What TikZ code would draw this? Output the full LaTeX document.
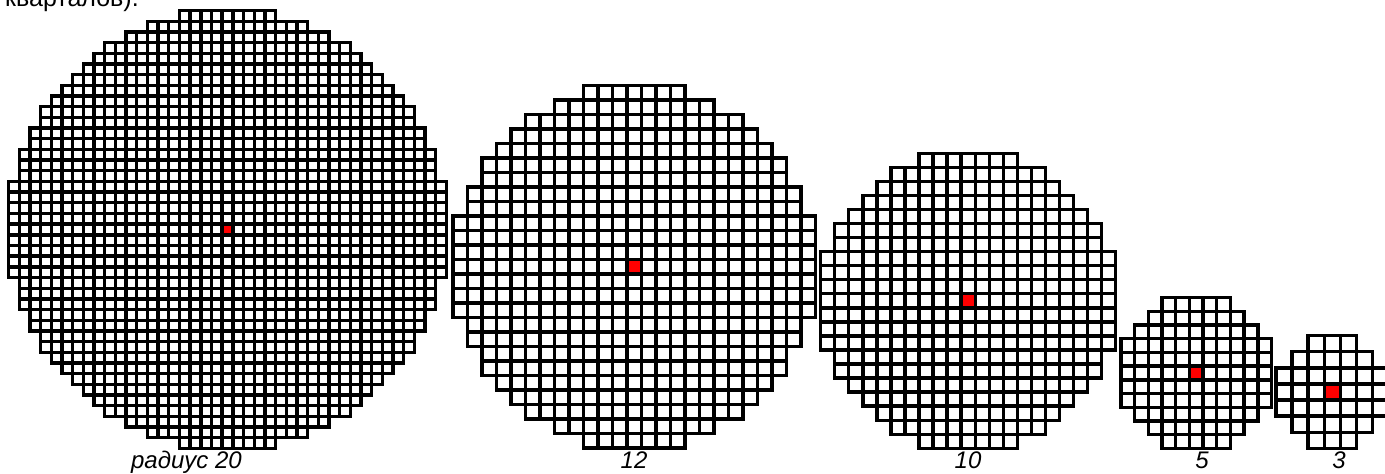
\documentclass[tikz,border=0pt]{standalone}
\usepackage{fontspec}
\setmainfont{Liberation Sans}
\definecolor{blkInk}{HTML}{000000}
\definecolor{blkRed}{HTML}{FF0000}
\tikzset{
  blk cell/.style={draw=blkInk, fill=white, line width=3.4pt},
  blk centre/.style={blk cell, fill=blkRed},
  blk label/.style={font=\itshape\fontsize{24}{28}\selectfont, text=blkInk, inner sep=0pt, anchor=base},
  blk text/.style={font=\fontsize{25}{30}\selectfont, text=blkInk, inner sep=0pt, anchor=base east},
}

\begin{document}
\begin{tikzpicture}[x=1pt, y=1pt]
  \useasboundingbox (0,0) rectangle (1385,474);
  % Tail of the sentence above the picture (cut by the page edge)
  \node[blk text] (tail) at (139,467) {кварталов).};
  % Discs of blocks: centre x / centre y / block size / radius
  \foreach \cx/\cy/\p/\r in {227.5/244.5/10.68/20, 634.2/207.3/14.5/12, 968.2/173.2/14.05/10, 1196.2/101/13.7/5, 1332.3/82/16.1/3} {
    \pgfmathtruncatemacro{\rlo}{-\r}
    \pgfmathtruncatemacro{\rmax}{\r*\r+\r}
    \foreach \i in {\rlo,...,\r} {
      \foreach \j in {\rlo,...,\r} {
        \pgfmathtruncatemacro{\dd}{\i*\i+\j*\j}
        \ifnum\dd>\rmax\relax\else
          \draw[blk cell] ({\cx+(\i-0.5)*\p},{\cy+(\j-0.5)*\p}) rectangle ++(\p,\p);
        \fi
      }
    }
    % centre block
    \draw[blk centre] ({\cx-0.5*\p},{\cy-0.5*\p}) rectangle ++(\p,\p);
  }
  % Radius labels
  \node[blk label, anchor=base east] (lab20) at (242,5) {радиус 20};
  \node[blk label] (lab12) at (634,5) {12};
  \node[blk label] (lab10) at (968,5) {10};
  \node[blk label] (lab5) at (1202,5) {5};
  \node[blk label] (lab3) at (1339,5) {3};
\end{tikzpicture}
\end{document}
